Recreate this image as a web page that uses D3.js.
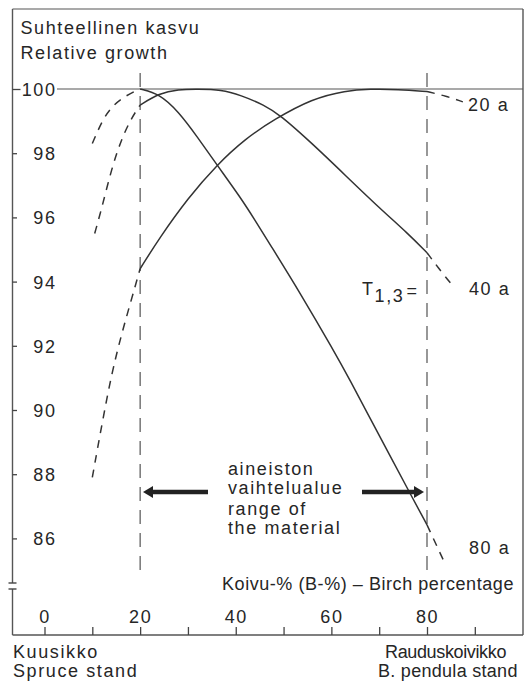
<!DOCTYPE html>
<html><head><meta charset="utf-8">
<script src="https://cdn.jsdelivr.net/npm/d3@7"></script>
<style>
body{margin:0;background:#fff}
svg text{font-family:"Liberation Sans",Arial,Helvetica,sans-serif;font-size:18px;fill:#262626;letter-spacing:1.6px}
</style></head><body>
<svg id="c" width="531" height="684"></svg>
<script>
// ---- data ----
const ageLabels = ["20 a", "40 a", "80 a"];
const xTicks = [0, 10, 20, 30, 40, 50, 60, 70, 80, 90];
const xTickLabels = [0, 20, 40, 60, 80];
const yTicks = [86, 88, 90, 92, 94, 96, 98, 100];
const rangeLimits = [20, 80];

// birch percentage (x) and relative growth (y) per stand age
const x20a = [10, 12, 14, 16, 18, 20, 24, 30, 36, 42, 48, 56, 63, 68, 74, 80, 84, 87.5];
const y20a = [87.9, 89.55, 91.1, 92.3, 93.35, 94.4, 95.35, 96.6, 97.63, 98.45, 99.05, 99.7, 99.95, 100, 99.99, 99.92, 99.78, 99.6];

const x40a = [10.5, 12, 14, 16, 18, 20, 24, 28, 32, 37, 41, 46, 49.3, 56, 63, 70, 76, 80, 83, 85.5];
const y40a = [95.5, 96.3, 97.5, 98.4, 99.05, 99.5, 99.87, 99.99, 100, 99.98, 99.81, 99.5, 99.19, 98.3, 97.3, 96.3, 95.5, 94.9, 94.3, 93.85];

const x80a = [10, 12, 14, 17, 20, 24, 28, 32, 36, 41, 44, 47, 53.5, 60.4, 64, 68, 72, 76, 80, 83.5];
const y80a = [98.3, 99.0, 99.45, 99.8, 100, 99.85, 99.3, 98.5, 97.65, 96.62, 95.92, 95.2, 93.64, 91.87, 90.9, 89.77, 88.65, 87.53, 86.42, 85.3];

const seriesX = [x20a, x40a, x80a];
const seriesY = [y20a, y40a, y80a];

// ---- drawing ----
const svg = d3.select("#c");
const ink = "#333";
const x = d3.scaleLinear().domain([0, 80]).range([44.5, 427]);
const y = d3.scaleLinear().domain([86, 100]).range([538.4, 89]);

const L = 12.5, R = 523, T = 9, B = 635;

// frame
svg.append("line").attr("x1", L).attr("x2", R).attr("y1", T).attr("y2", T).attr("stroke", "#555").attr("stroke-width", 1.2);
svg.append("line").attr("x1", R).attr("x2", R).attr("y1", T).attr("y2", B).attr("stroke", "#555").attr("stroke-width", 1.4);
svg.append("line").attr("x1", L).attr("x2", L).attr("y1", T).attr("y2", 583).attr("stroke", "#555").attr("stroke-width", 1.4);
svg.append("line").attr("x1", L).attr("x2", L).attr("y1", 589).attr("y2", B).attr("stroke", "#555").attr("stroke-width", 1.4);
svg.append("line").attr("x1", L - 4).attr("x2", L + 4).attr("y1", 583).attr("y2", 583).attr("stroke", "#444").attr("stroke-width", 1.4);
svg.append("line").attr("x1", L - 4).attr("x2", L + 4).attr("y1", 589).attr("y2", 589).attr("stroke", "#444").attr("stroke-width", 1.4);
svg.append("line").attr("x1", L).attr("x2", R).attr("y1", B).attr("y2", B).attr("stroke", "#555").attr("stroke-width", 1.4);

// 100 line
svg.append("line").attr("x1", 57).attr("x2", R).attr("y1", y(100)).attr("y2", y(100)).attr("stroke", "#555").attr("stroke-width", 1.1);

// y axis
const yAxis = d3.axisLeft(y).tickValues(yTicks).tickSize(-4.5).tickPadding(0).tickFormat(d3.format("d"));
const gy = svg.append("g").attr("transform", `translate(${L},0)`).call(yAxis);
gy.select(".domain").remove();
gy.selectAll(".tick line").attr("stroke", "#444").attr("stroke-width", 1.3)
  .attr("x2", d => d === 100 ? 8 : 4.5);
gy.selectAll(".tick text").attr("x", 44).attr("text-anchor", "end").attr("dy", "0.36em")
  .style("font-size", "18px").style("font-family", null).attr("fill", "#262626");

// x axis
const xAxis = d3.axisBottom(x).tickValues(xTicks).tickSize(-8).tickPadding(0)
  .tickFormat(d => xTickLabels.includes(d) ? d : "");
const gx = svg.append("g").attr("transform", `translate(0,${B})`).call(xAxis);
gx.select(".domain").remove();
gx.selectAll(".tick line").attr("stroke", "#444").attr("stroke-width", 1.3);
gx.selectAll(".tick text").attr("y", -12).attr("dy", 0).attr("text-anchor", "middle")
  .style("font-size", "18px").style("font-family", null).attr("fill", "#262626");

// range limit dashed verticals
rangeLimits.forEach(v => {
  svg.append("line").attr("x1", x(v)).attr("x2", x(v)).attr("y1", 73).attr("y2", 571)
    .attr("stroke", "#444").attr("stroke-width", 1.1).attr("stroke-dasharray", "14,9");
});

// curves
const line = d3.line().x(d => x(d[0])).y(d => y(d[1])).curve(d3.curveBasis);
seriesX.forEach((xs, i) => {
  const pts = xs.map((v, j) => [v, seriesY[i][j]]);
  const left = pts.filter(p => p[0] <= rangeLimits[0]);
  const mid = pts.filter(p => p[0] >= rangeLimits[0] && p[0] <= rangeLimits[1]);
  const right = pts.filter(p => p[0] >= rangeLimits[1]);
  svg.append("path").attr("d", line(mid)).attr("fill", "none").attr("stroke", ink).attr("stroke-width", 1.5);
  [left, right].forEach(seg => {
    if (seg.length > 1)
      svg.append("path").attr("d", line(seg)).attr("fill", "none").attr("stroke", ink)
        .attr("stroke-width", 1.5).attr("stroke-dasharray", "8,7");
  });
});

// age labels
const ageLabelPos = [[468, 111], [469, 295], [469, 554]];
ageLabels.forEach((t, i) => {
  svg.append("text").attr("x", ageLabelPos[i][0]).attr("y", ageLabelPos[i][1]).text(t);
});

// T1,3 =
const tt = svg.append("text").attr("x", 362).attr("y", 295);
tt.append("tspan").text("T");
tt.append("tspan").attr("dy", 7).text("1,3");
tt.append("tspan").attr("dy", -5).attr("dx", 2).text("=");

// titles
svg.append("text").attr("x", 20.5).attr("y", 34.3).text("Suhteellinen kasvu");
svg.append("text").attr("x", 20.5).attr("y", 59.3).text("Relative growth");

function fitText(t, x0, x1, yy) {
  svg.append("text").attr("x", x0).attr("y", yy).attr("textLength", x1 - x0)
    .attr("lengthAdjust", "spacing").text(t);
}
fitText("Koivu-% (B-%) – Birch percentage", 222, 515, 590);

svg.append("text").attr("x", 13).attr("y", 658).text("Kuusikko");
svg.append("text").attr("x", 13).attr("y", 677).text("Spruce stand");
fitText("Rauduskoivikko", 385, 508, 658);
fitText("B. pendula stand", 378, 519, 677);

// annotation
["aineiston", "vaihtelualue", "range of", "the material"].forEach((t, i) => {
  svg.append("text").attr("x", 228).attr("y", [475, 493.5, 514.5, 533.5][i]).text(t);
});

// arrows
const ay = 492;
function arrow(x0, x1) {
  const dir = Math.sign(x1 - x0);
  const hx = x1 - dir * 10;
  svg.append("line").attr("x1", x0).attr("x2", hx).attr("y1", ay).attr("y2", ay)
    .attr("stroke", "#222").attr("stroke-width", 4.5);
  svg.append("path").attr("d", `M${x1},${ay} L${hx},${ay - 6} L${hx},${ay + 6} Z`).attr("fill", "#222");
}
arrow(208, 143);
arrow(362, 424);
</script>
</body></html>
